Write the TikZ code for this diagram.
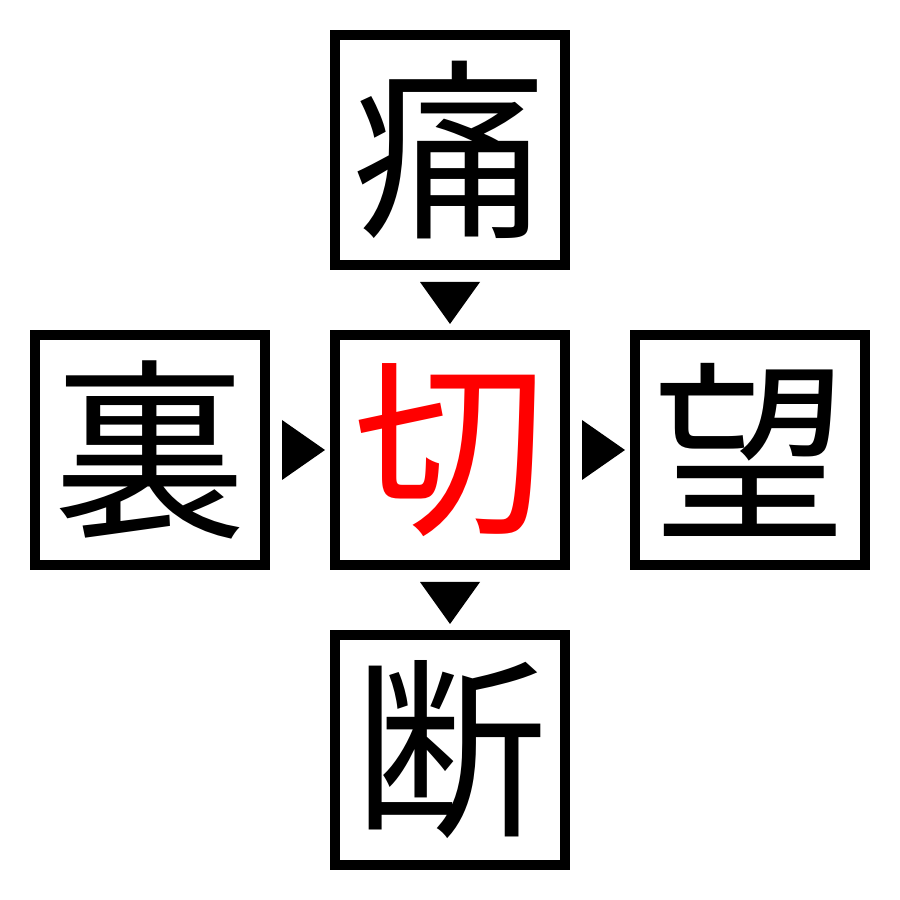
\documentclass[tikz,border=0pt]{standalone}
\usepackage{fontspec}
\newfontfamily\jpfont{Noto Sans CJK JP}
\usetikzlibrary{positioning}
\begin{document}
\begin{tikzpicture}[font=\jpfont\fontsize{55}{55}\selectfont,node distance=6mm]
				\useasboundingbox (0,0) rectangle (9,9);
				\tikzset{kbox/.style={draw,line width=1mm,minimum size=2.3cm,inner sep=0pt}}
				\node[kbox,text=red] (C) at (4.5,4.5) {切};
				\node[kbox,above=of C] (N) {痛};
				\node[kbox,below=of C] (S) {断};
				\node[kbox,left=of C] (W) {裏};
				\node[kbox,right=of C] (E) {望};
				\foreach \x in {N,C}{
					\fill ([shift={(-0.3,-0.12)}]\x.south) -- ++(0.6,0) -- ++(-0.3,-0.42) -- cycle;
				}
				\foreach \x in {W,C}{
					\fill ([shift={(0.12,0.3)}]\x.east) -- ++(0,-0.6) -- ++(0.43,0.3) -- cycle;
				}
			\end{tikzpicture}
\end{document}
